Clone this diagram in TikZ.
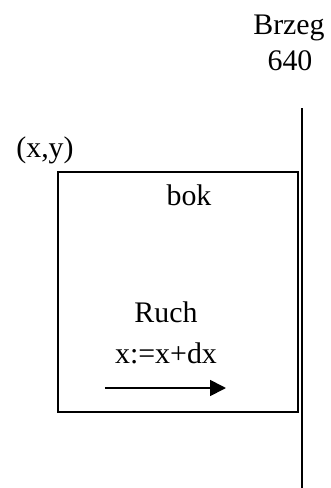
\documentclass[tikz,border=0pt]{standalone}
\usepackage{fontspec}
\setmainfont{Liberation Serif}
\usetikzlibrary{arrows.meta,positioning}
\tikzset{
  txt/.style={font=\fontsize{17}{20}\selectfont,inner sep=0pt},
  frame/.style={draw=black,line width=0.75pt,minimum width=4.8cm,
    minimum height=4.8cm,inner sep=0pt},
  wall/.style={draw=black,line width=0.75pt},
  move/.style={-{Triangle[length=9pt,width=9pt]},line width=1pt}
}

\begin{document}
\begin{tikzpicture}[x=0.02cm,y=-0.02cm]
\useasboundingbox (0,0) rectangle (331,488);
% wall on the right
\node[txt] (brzeg) at (289,28) {Brzeg};
\node[txt] (granica) at (290,61) {640};
\coordinate (wgora) at (302,108);
\coordinate (wdol) at (302,488);
\draw[wall] (wgora) -- (wdol);
% the moving square
\node[frame] (bok) at (178,292) {};
\node[txt] (poz) at (45,150) {(x,y)};
\node[txt] (nazwa) at (189,195) {bok};
\node[txt] (ruch) at (166,312) {Ruch};
\node[txt] (krok) at (166,353) {x:=x+dx};
\coordinate (start) at (105,388);
\coordinate (koniec) at (226,388);
\draw[move] (start) -- (koniec);
\end{tikzpicture}
\end{document}
